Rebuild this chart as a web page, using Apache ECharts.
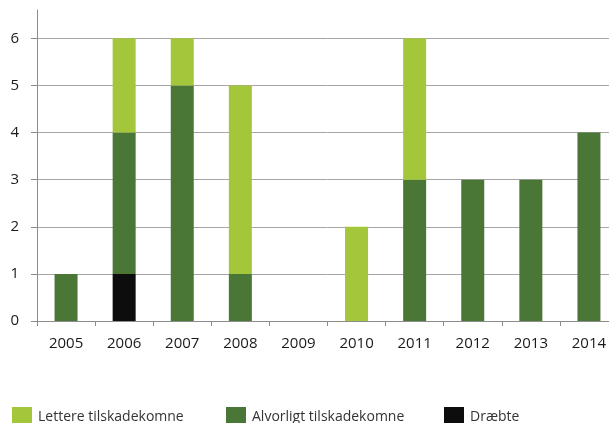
<!DOCTYPE html>
<html><head><meta charset="utf-8">
<script src="https://cdn.jsdelivr.net/npm/echarts@6/dist/echarts.min.js"></script>
<style>html,body{margin:0;padding:0;background:#fff;overflow:hidden}#c{width:620px;height:423px}</style>
</head><body><div id="c"></div>
<script>
const years = ['2005','2006','2007','2008','2009','2010','2011','2012','2013','2014'];
const draebte = [0,1,0,0,0,0,0,0,0,0];
const alvorligt = [1,3,5,1,0,0,3,3,3,4];
const lettere = [0,2,1,4,0,2,3,0,0,0];
const yTicks = [0,1,2,3,4,5,6];

const chart = echarts.init(document.getElementById('c'), null, {renderer:'canvas'});
const lbl = {fontFamily:'Open Sans', fontSize:15, color:'#1a1a1a'};
const mkLegend = (name, left) => ({
  data:[name], left:left, top:402, itemWidth:20, itemHeight:20, itemGap:0,
  icon:'rect', textStyle:{fontFamily:'Open Sans', fontSize:14, color:'#333', padding:[0,0,0,1]},
  selectedMode:false
});
chart.setOption({
  animation:false,
  grid:{left:37, top:10, right:2, bottom:102, containLabel:false},
  legend:[mkLegend('Lettere tilskadekomne',7), mkLegend('Alvorligt tilskadekomne',221), mkLegend('Dræbte',439)],
  xAxis:{type:'category', data:years,
    axisLine:{lineStyle:{color:'#8c8c8c', width:1}},
    axisTick:{show:true, alignWithLabel:false, length:5, lineStyle:{color:'#8c8c8c'}},
    axisLabel:Object.assign({margin:15}, lbl)},
  yAxis:{type:'value', min:0, max:6.6, interval:1,
    axisLine:{show:true, lineStyle:{color:'#8c8c8c', width:1}},
    axisTick:{show:true, length:6, lineStyle:{color:'#8c8c8c'}},
    axisLabel:Object.assign({margin:18, showMaxLabel:false,
      formatter:v => yTicks.includes(v) ? String(v) : ''}, lbl),
    splitLine:{show:true, showMaxLine:false, lineStyle:{color:'#a6a6a6', width:1}}},
  series:[
    {name:'Dræbte', type:'bar', stack:'s', data:draebte, barWidth:23, itemStyle:{color:'#0d0d0d'}},
    {name:'Alvorligt tilskadekomne', type:'bar', stack:'s', data:alvorligt, barWidth:23, itemStyle:{color:'#4a7735'}},
    {name:'Lettere tilskadekomne', type:'bar', stack:'s', data:lettere, barWidth:23, itemStyle:{color:'#a3c63b'}}
  ]
});
</script></body></html>
